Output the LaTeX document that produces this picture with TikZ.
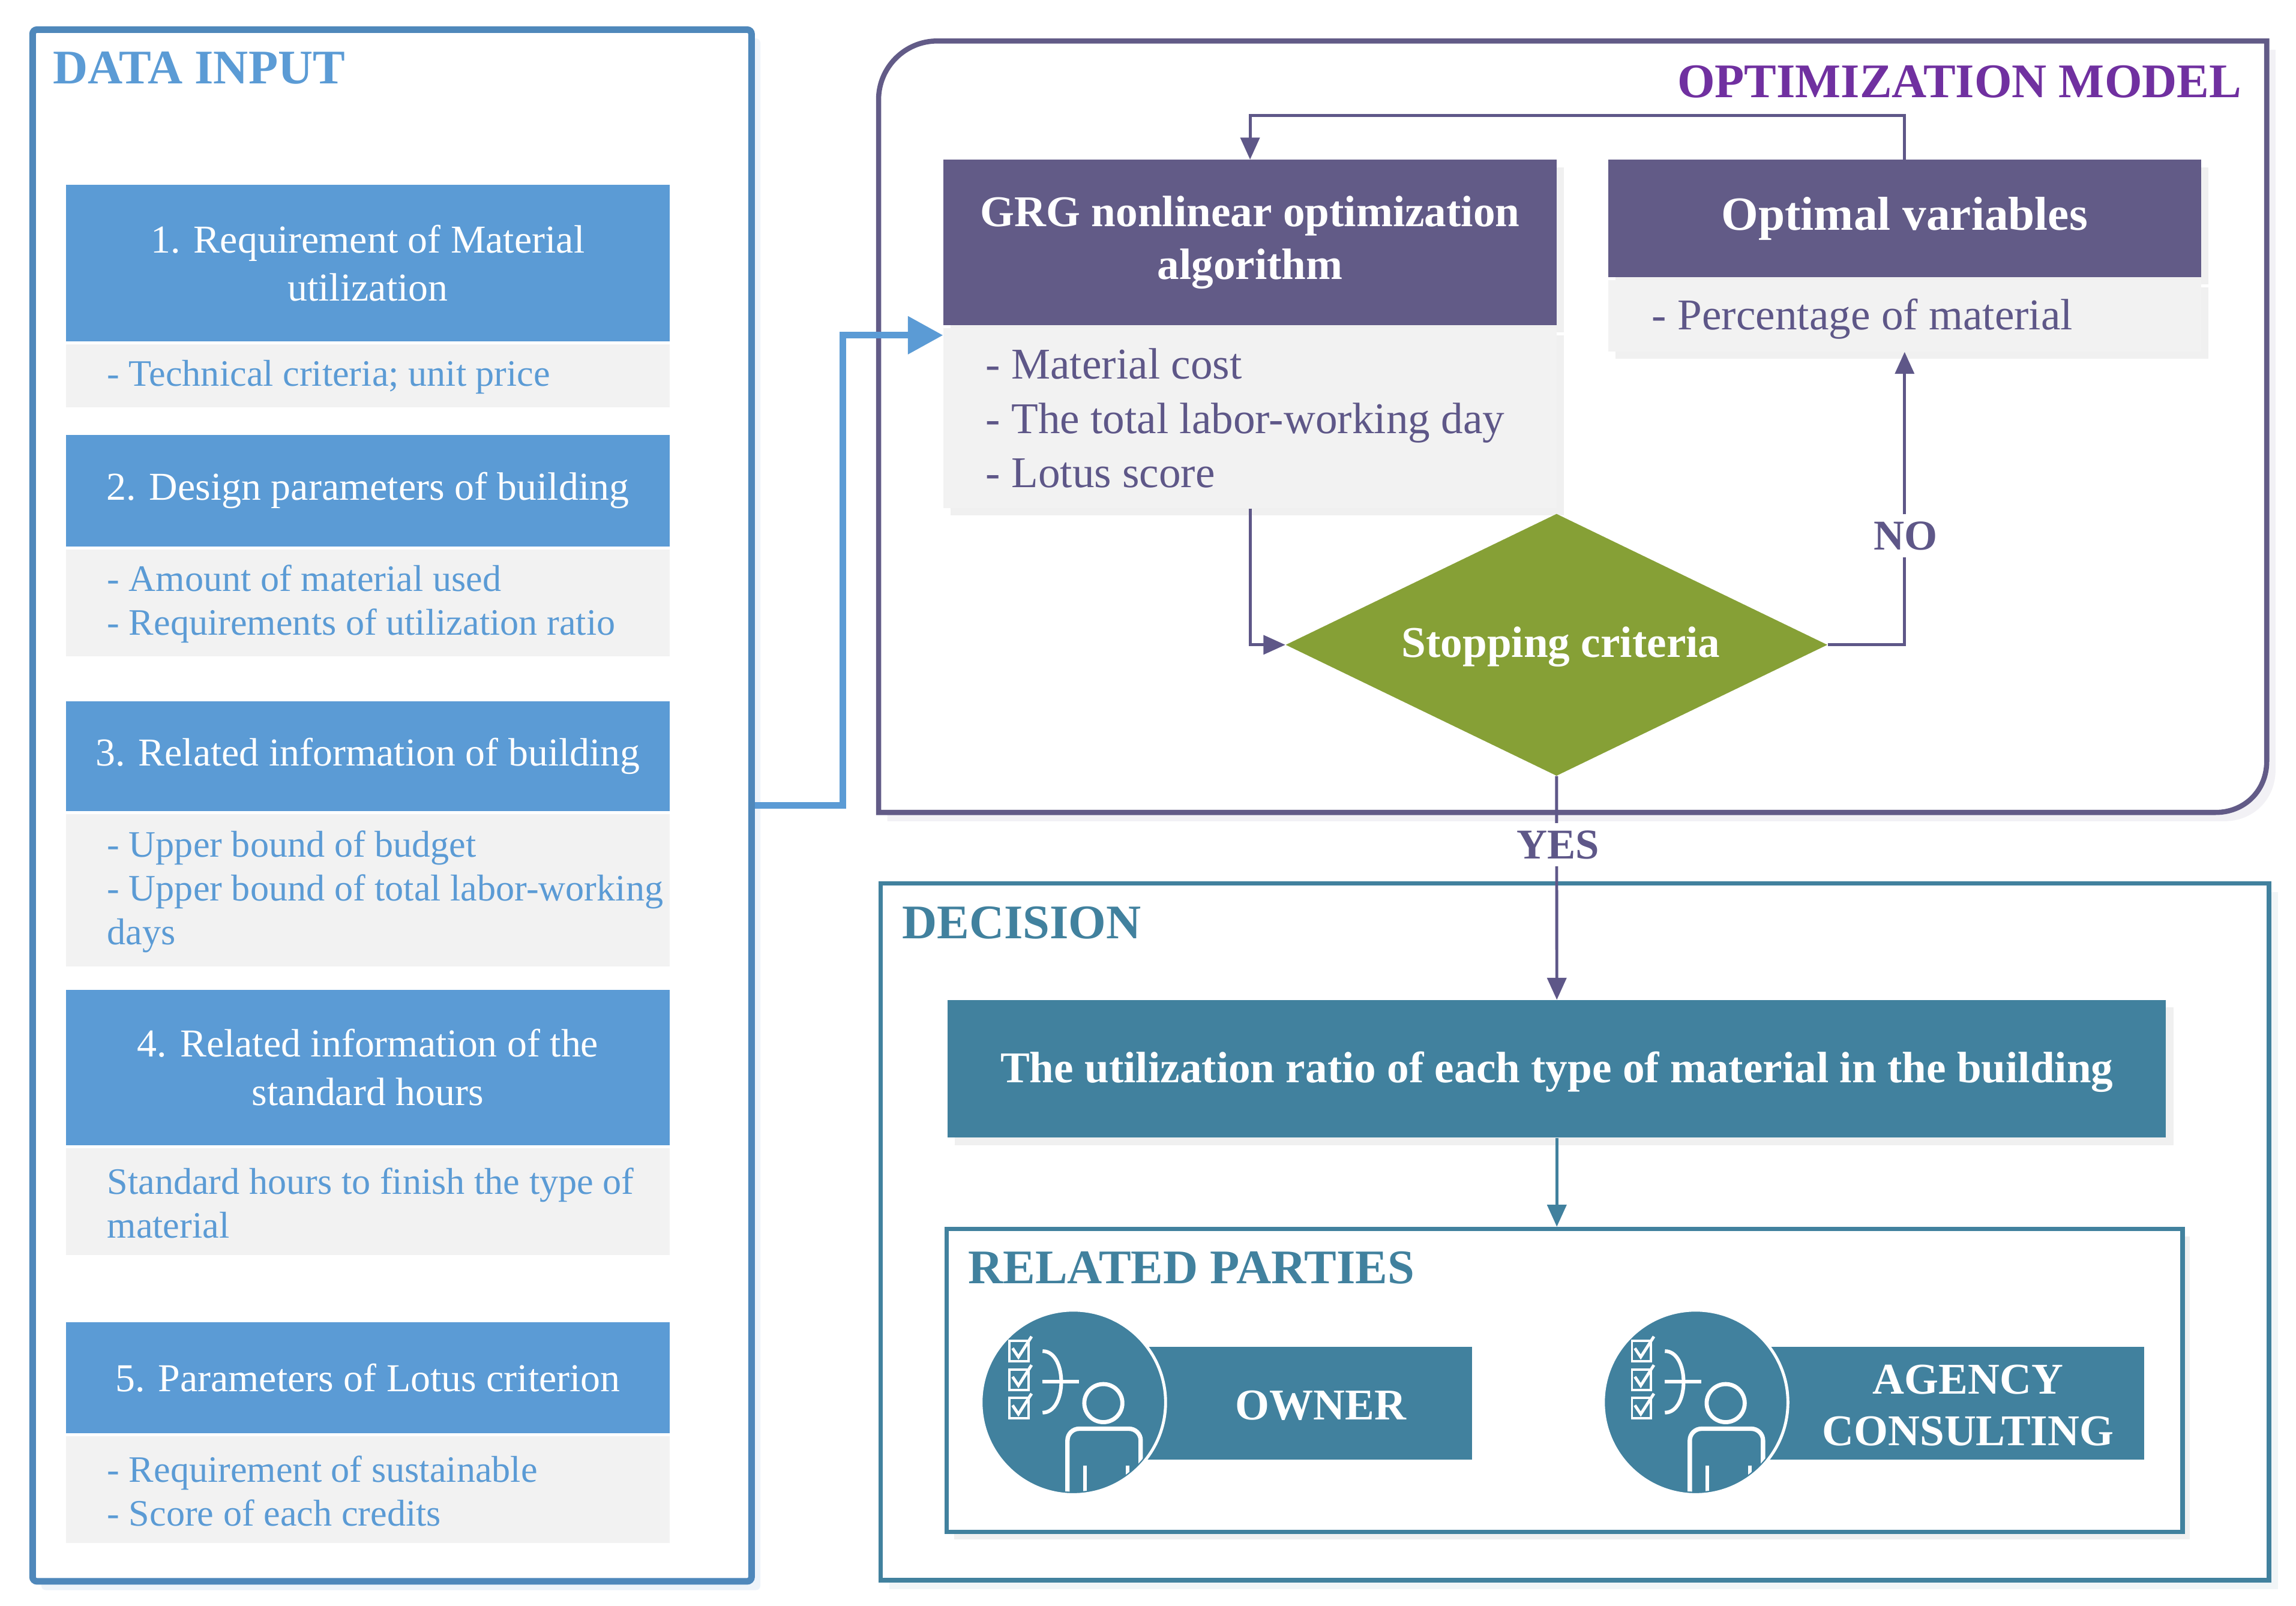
\documentclass[tikz,border=0pt]{standalone}
\usepackage{fontspec}
\setmainfont{Liberation Serif}
\usetikzlibrary{arrows.meta,shapes.geometric,shadows}
\definecolor{hblue}{HTML}{5B9BD5}
\definecolor{bblue}{HTML}{4F88BB}
\definecolor{lgray}{HTML}{F2F2F2}
\definecolor{pur}{HTML}{625B87}
\definecolor{purtxt}{HTML}{5E5788}
\definecolor{titlepur}{HTML}{7030A0}
\definecolor{grn}{HTML}{86A036}
\definecolor{tealc}{HTML}{41819E}
\newcommand\myfs[2]{\fontsize{#1}{#2}\selectfont}
\tikzset{
  lshadow/.style={drop shadow={shadow xshift=5pt, shadow yshift=-5pt, fill=black, opacity=0.06}},
  hdr/.style={fill=hblue, anchor=north west, inner sep=0pt, text=white, align=center, minimum width=412pt, font=\myfs{27}{33}},
  bodybox/.style={fill=lgray, anchor=north west, inner sep=0pt, minimum width=412pt},
  btext/.style={anchor=west, align=left, inner sep=0pt, text=hblue, font=\myfs{25.5}{30}},
  phdr/.style={fill=pur, anchor=north west, inner sep=0pt, text=white, align=center, font=\bfseries\myfs{30}{36}, lshadow},
  pbody/.style={fill=lgray, anchor=north west, inner sep=0pt, lshadow},
  ptext/.style={anchor=west, align=left, inner sep=0pt, text=purtxt, font=\myfs{30}{37}},
  pline/.style={draw=purtxt, line width=2pt, -{Triangle[length=15pt,width=13pt]}},
  tline/.style={draw=tealc, line width=2pt, -{Triangle[length=15pt,width=13pt]}},
  lbl/.style={fill=white, text=purtxt, font=\bfseries\myfs{29}{34}, inner xsep=3pt, inner ysep=5pt},
  title/.style={anchor=base west, inner sep=0pt, font=\bfseries\myfs{33}{36}},
  partytext/.style={text=white, font=\bfseries\myfs{30}{35}, align=center, inner sep=0pt},
  badge/.style={circle, fill=tealc, draw=white, line width=2pt, minimum size=126pt, inner sep=0pt},
  personicon/.pic={
    \begin{scope}
      \clip (0,0) circle[radius=61pt];
      \draw[white, line width=3pt, rounded corners=8pt] (-4,80) -- (-4,18) -- (46,18) -- (46,80);
      \draw[white, line width=2.5pt] (8,43) -- (8,80) (37,43) -- (37,80);
    \end{scope}
    \draw[white, line width=2.8pt] (20.5,0.5) circle[radius=13pt];
    \draw[white, line width=2.5pt] (-21,-35) .. controls (-4,-35) and (-4,7) .. (-21,7);
    \draw[white, line width=2.5pt] (-21,-14) -- (4,-14);
    \foreach \yy in {-42,-22.5,-3}{
      \draw[white, line width=1.6pt] (-43.5,\yy) rectangle (-30.5,\yy+14);
      \draw[white, line width=2pt] (-41.5,\yy+5) -- (-37.5,\yy+11) -- (-28.5,\yy-3);
    }
  }
}
\begin{document}
\begin{tikzpicture}[x=1pt,y=-1pt]
\useasboundingbox[fill=white] (0,0) rectangle (1568,1097);

% ---------- DATA INPUT ----------
\node[draw=bblue, line width=4.5pt, fill=white, rounded corners=3pt, minimum width=491pt, minimum height=1060pt, anchor=north west, inner sep=0pt,
      drop shadow={shadow xshift=6pt, shadow yshift=-6pt, fill=hblue, opacity=0.1}] (datain) at (20,18) {};
\node[title, text=hblue] (tdata) at (36,57) {DATA INPUT};

\node[hdr, minimum height=107pt] (h1) at (45,126) {1. Requirement of Material\\utilization};
\node[bodybox, minimum height=43pt] (b1) at (45,235) {};
\node[btext] (t1) at ([xshift=28pt,yshift=-1pt]b1.west) {- Technical criteria; unit price};

\node[hdr, minimum height=76pt] (h2) at (45,297) {2. Design parameters of building};
\node[bodybox, minimum height=73pt] (b2) at (45,375) {};
\node[btext] (t2) at ([xshift=28pt,yshift=-1pt]b2.west) {- Amount of material used\\- Requirements of utilization ratio};

\node[hdr, minimum height=75pt] (h3) at (45,479) {3. Related information of building};
\node[bodybox, minimum height=104pt] (b3) at (45,556) {};
\node[btext] (t3) at ([xshift=28pt,yshift=-1pt]b3.west) {- Upper bound of budget\\- Upper bound of total labor-working\\days};

\node[hdr, minimum height=106pt] (h4) at (45,676) {4. Related information of the\\standard hours};
\node[bodybox, minimum height=73pt] (b4) at (45,784) {};
\node[btext] (t4) at ([xshift=28pt,yshift=-1pt]b4.west) {Standard hours to finish the type of\\material};

\node[hdr, minimum height=76pt] (h5) at (45,903) {5. Parameters of Lotus criterion};
\node[bodybox, minimum height=73pt] (b5) at (45,981) {};
\node[btext] (t5) at ([xshift=28pt,yshift=-1pt]b5.west) {- Requirement of sustainable\\- Score of each credits};

% ---------- OPTIMIZATION MODEL ----------
\fill[purtxt, opacity=0.08] (606,561) -- (606,74) .. controls (606,52) and (624,34) .. (646,34) -- (1554,34) -- (1554,526) .. controls (1554,546) and (1539,561) .. (1519,561) -- cycle;
\draw[draw=pur, line width=3.5pt, fill=white] (600,555) -- (600,68) .. controls (600,46) and (618,28) .. (640,28) -- (1548,28) -- (1548,520) .. controls (1548,540) and (1533,555) .. (1513,555) -- cycle;
\node[title, anchor=base east, text=titlepur] (topt) at (1531,66.5) {OPTIMIZATION MODEL};

\node[phdr, minimum width=419pt, minimum height=113pt] (grg) at (644,109) {GRG nonlinear optimization\\algorithm};
\node[pbody, minimum width=419pt, minimum height=123pt] (grgb) at (644,224) {};
\node[ptext] (grgt) at ([xshift=29pt]grgb.west) {- Material cost\\- The total labor-working day\\- Lotus score};

\node[phdr, minimum width=405pt, minimum height=80pt, font=\bfseries\myfs{32.5}{36}] (opt) at (1098,109) {Optimal variables};
\node[pbody, minimum width=405pt, minimum height=49pt] (optb) at (1098,191) {};
\node[ptext] (optt) at ([xshift=30pt,yshift=-2pt]optb.west) {- Percentage of material};

\node[diamond, fill=grn, minimum width=370pt, minimum height=179pt, aspect=2.07, inner sep=0pt] (stop) at (1063,440.5) {};
\node[text=white, font=\bfseries\myfs{30}{36}, inner sep=0pt] (stopt) at (1066,442) {Stopping criteria};

\draw[pline] (grgb.south) |- (stop.west);
\draw[pline] (stop.east) -| (optb.south);
\draw[pline] (opt.north) -- ++(0,-30) -| (grg.north);
\node[lbl] (no) at (1301.5,366) {NO};

% ---------- blue arrow ----------
\coordinate (bin) at (644,229);
\draw[draw=hblue, line width=4.5pt, -{Triangle[length=24pt,width=25pt]}] (datain.east) -- ++(60,0) |- (bin);

% ---------- DECISION ----------
\node[draw=tealc, line width=3pt, fill=white, minimum width=948pt, minimum height=476pt, anchor=north west, inner sep=0pt,
      drop shadow={shadow xshift=6pt, shadow yshift=-6pt, fill=tealc, opacity=0.08}] (dec) at (600,602) {};
\node[title, text=tealc] (tdec) at (616,641) {DECISION};

\node[fill=tealc, minimum width=832pt, minimum height=94pt, anchor=north west, inner sep=0pt, lshadow] (util) at (647,683) {};
\node[text=white, font=\bfseries\myfs{30}{36}, inner sep=0pt] (utilt) at ([yshift=-2pt]util.center) {The utilization ratio of each type of material in the building};

\draw[pline] (stop.south) -- (util.north);
\node[lbl] (yes) at (1064,577) {YES};

\node[draw=tealc, line width=3pt, fill=white, minimum width=844pt, minimum height=207pt, anchor=north west, inner sep=0pt, lshadow] (rel) at (645,838) {};
\draw[tline] (util.south) -- (util.south |- rel.north);
\node[title, text=tealc] (trel) at (661,877) {RELATED PARTIES};

% owner
\node[fill=tealc, minimum width=222pt, minimum height=77pt, anchor=north west, inner sep=0pt] (ownr) at (783,920) {};
\node[partytext] (ownt) at (902,960) {OWNER};
\node[badge] (ownc) at (733,958) {};
\pic at (ownc.center) {personicon};

% agency
\node[fill=tealc, minimum width=256pt, minimum height=77pt, anchor=north west, inner sep=0pt] (agr) at (1208,920) {};
\node[partytext] (agt) at (1344,960) {AGENCY\\CONSULTING};
\node[badge] (agc) at (1158,958) {};
\pic at (agc.center) {personicon};

\end{tikzpicture}
\end{document}
